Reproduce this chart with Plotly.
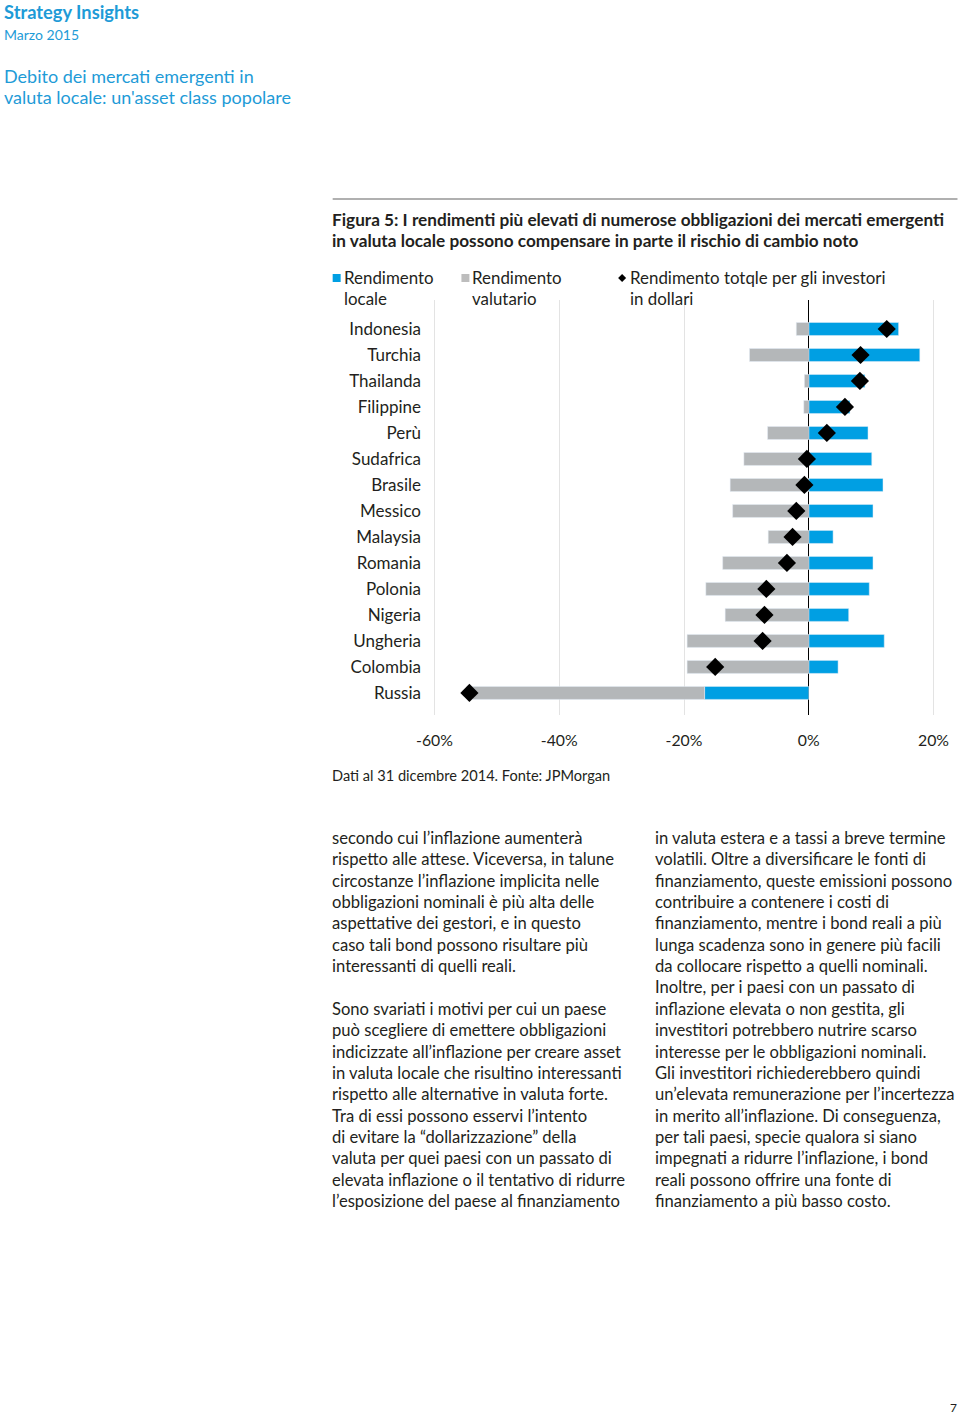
import plotly.graph_objects as go

# ---------------- data ----------------
countries = ["Indonesia", "Turchia", "Thailanda", "Filippine", "Perù", "Sudafrica",
             "Brasile", "Messico", "Malaysia", "Romania", "Polonia", "Nigeria",
             "Ungheria", "Colombia", "Russia"]
local_return = [14.4, 17.8, 9.0, 6.6, 9.5, 10.1, 11.9, 10.3, 3.9, 10.3, 9.7, 6.4, 12.1, 4.7, -16.7]
currency_return = [-2.0, -9.5, -0.7, -0.8, -6.6, -10.4, -12.6, -12.2, -6.5, -13.8, -16.5, -13.4,
                   -19.5, -19.5, -37.2]
total_return = [12.5, 8.3, 8.2, 5.8, 2.9, -0.3, -0.7, -2.0, -2.6, -3.5, -6.8, -7.1, -7.4, -15.0, -54.4]
tick_vals = [-60, -40, -20, 0, 20]
tick_labels = ["-60%", "-40%", "-20%", "0%", "20%"]

BLUE = "#009FE3"
GREY = "#B4B7B9"
TXT = "#231F20"
HEAD = "#1E9BD7"
FONT = "Lato"

W, H = 960, 1414
L, R, T, B = 421.5, 946.5, 300, 715


def px(x):
    return (x - L) / (R - L)


def py(y):
    return (B - y) / (B - T)


fig = go.Figure()
fig.add_trace(go.Bar(y=countries, x=local_return, orientation="h", marker_color=BLUE,
                     name="Rendimento locale", showlegend=False))
fig.add_trace(go.Bar(y=countries, x=currency_return, orientation="h", marker_color=GREY,
                     name="Rendimento valutario", showlegend=False))
fig.add_trace(go.Scatter(y=countries, x=total_return, mode="markers",
                         marker=dict(symbol="diamond", size=14, color="black"),
                         name="Rendimento totale", showlegend=False))

annotations = []


def txt(x, y, s, size=17.2, color=TXT, weight="normal", xanchor="left"):
    dx = -3 if xanchor == "left" else 3
    annotations.append(dict(x=px(x + dx), y=py(y), xref="paper", yref="paper", text=s,
                            showarrow=False, xanchor=xanchor, yanchor="middle",
                            font=dict(family=FONT, size=size, color=color, weight=weight)))


# header
txt(4, 12, "Strategy Insights", size=18.3, color=HEAD, weight="bold")
txt(4, 34, "Marzo 2015", size=14, color=HEAD)
txt(4, 76, "Debito dei mercati emergenti in", size=18, color=HEAD)
txt(4, 97, "valuta locale: un'asset class popolare", size=18, color=HEAD)

# figure caption
txt(332, 219, "Figura 5: I rendimenti più elevati di numerose obbligazioni dei mercati emergenti",
    size=17.2, weight="bold")
txt(332, 240, "in valuta locale possono compensare in parte il rischio di cambio noto",
    size=17.2, weight="bold")

# legend
LEG = 16.9
txt(344, 278, "Rendimento", size=LEG)
txt(344, 298, "locale", size=LEG)
txt(473, 278, "Rendimento", size=LEG)
txt(473, 298, "valutario", size=LEG)
txt(631, 278, "Rendimento totqle per gli investori", size=LEG)
txt(631, 298, "in dollari", size=LEG)

# source
txt(332, 775, "Dati al 31 dicembre 2014. Fonte: JPMorgan", size=14.6)

# body text
left_col = [
    "secondo cui l’inflazione aumenterà",
    "rispetto alle attese. Viceversa, in talune",
    "circostanze l’inflazione implicita nelle",
    "obbligazioni nominali è più alta delle",
    "aspettative dei gestori, e in questo",
    "caso tali bond possono risultare più",
    "interessanti di quelli reali.",
    "",
    "Sono svariati i motivi per cui un paese",
    "può scegliere di emettere obbligazioni",
    "indicizzate all’inflazione per creare asset",
    "in valuta locale che risultino interessanti",
    "rispetto alle alternative in valuta forte.",
    "Tra di essi possono esservi l’intento",
    "di evitare la “dollarizzazione” della",
    "valuta per quei paesi con un passato di",
    "elevata inflazione o il tentativo di ridurre",
    "l’esposizione del paese al finanziamento",
]
right_col = [
    "in valuta estera e a tassi a breve termine",
    "volatili. Oltre a diversificare le fonti di",
    "finanziamento, queste emissioni possono",
    "contribuire a contenere i costi di",
    "finanziamento, mentre i bond reali a più",
    "lunga scadenza sono in genere più facili",
    "da collocare rispetto a quelli nominali.",
    "Inoltre, per i paesi con un passato di",
    "inflazione elevata o non gestita, gli",
    "investitori potrebbero nutrire scarso",
    "interesse per le obbligazioni nominali.",
    "Gli investitori richiederebbero quindi",
    "un’elevata remunerazione per l’incertezza",
    "in merito all’inflazione. Di conseguenza,",
    "per tali paesi, specie qualora si siano",
    "impegnati a ridurre l’inflazione, i bond",
    "reali possono offrire una fonte di",
    "finanziamento a più basso costo.",
]
BODY = 16.6
line_h = (1201 - 838) / 17
for i, s in enumerate(left_col):
    if s:
        txt(332, 838 + i * line_h, s, size=BODY)
for i, s in enumerate(right_col):
    txt(656, 838 + i * line_h, s, size=BODY)

txt(957, 1407, "7", size=12, xanchor="right")

shapes = [
    dict(type="line", xref="paper", yref="paper", x0=px(332), x1=px(958), y0=py(199), y1=py(199),
         line=dict(color="#B0B0B0", width=2)),
    dict(type="rect", xref="paper", yref="paper", x0=px(332), x1=px(340), y0=py(274), y1=py(282),
         fillcolor=BLUE, line=dict(width=0)),
    dict(type="rect", xref="paper", yref="paper", x0=px(461), x1=px(469), y0=py(274), y1=py(282),
         fillcolor="#BDBDBD", line=dict(width=0)),
    dict(type="path", xref="paper", yref="paper",
         path=f"M {px(618)},{py(278)} L {px(622)},{py(274)} L {px(626)},{py(278)} L {px(622)},{py(282)} Z",
         fillcolor="black", line=dict(width=0)),
]

fig.update_layout(
    width=W, height=H,
    margin=dict(l=L, r=W - R, t=T, b=H - B, pad=0),
    paper_bgcolor="white", plot_bgcolor="white",
    barmode="relative", bargap=0.5,
    font=dict(family=FONT, size=15.5, color=TXT),
    annotations=annotations, shapes=shapes,
    showlegend=False,
    xaxis=dict(range=[-62, 22], tickvals=tick_vals, ticktext=tick_labels,
               showgrid=True, gridcolor="#E3E3E3", gridwidth=1,
               zeroline=True, zerolinecolor="black", zerolinewidth=1,
               showline=False, ticks="", ticklabelstandoff=14,
               tickfont=dict(family=FONT, size=15.8, color=TXT)),
    yaxis=dict(type="category", categoryorder="array", categoryarray=countries,
               range=[14.85, -1.115], showgrid=False, zeroline=False, showline=False,
               ticks="", ticklabelstandoff=0,
               tickfont=dict(family=FONT, size=17, color=TXT)),
)

fig.write_html("out.html")
